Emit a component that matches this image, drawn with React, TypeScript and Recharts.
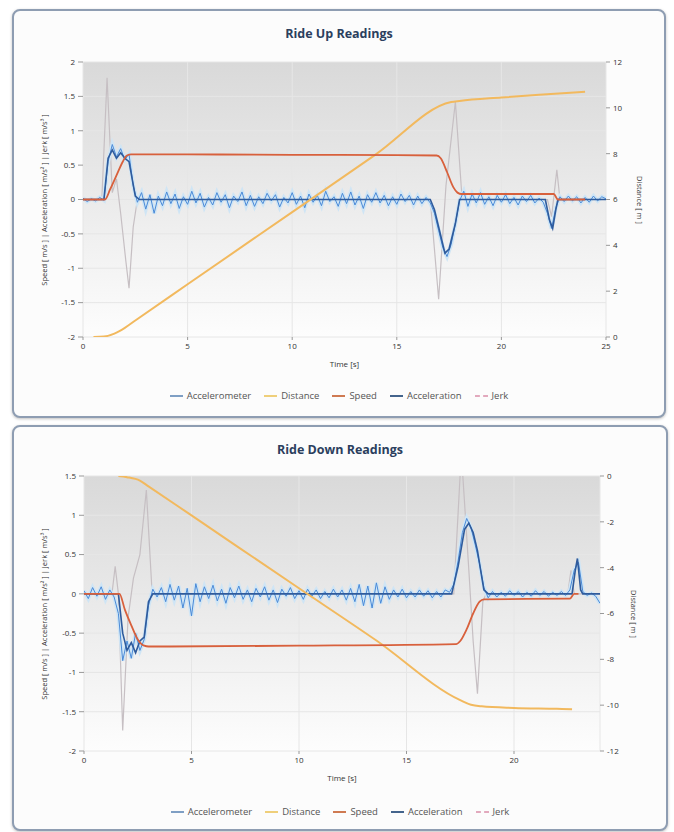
import { LineChart, Line, XAxis, YAxis, CartesianGrid } from "recharts"

// sampling interval of the raw accelerometer readings [s]
const STEP = 0.2

// ---- Ride Up ----
const upAccelerometer = [
  0.02, -0.03, 0.01, -0.02, 0.03, -0.01, 0.55, 0.8, 0.62, 0.74,
  0.58, 0.66, 0.2, -0.04, 0.1, -0.14, 0.07, -0.2, 0.05, -0.09,
  0.11, -0.06, 0.08, -0.13, 0.04, -0.07, 0.12, -0.05, 0.09, -0.11,
  0.03, -0.08, 0.1, -0.04, 0.07, -0.12, 0.05, -0.03, 0.11, -0.09,
  0.06, -0.1, 0.04, -0.06, 0.09, -0.02, 0.07, -0.11, 0.03, -0.05,
  0.1, -0.07, 0.05, -0.12, 0.08, -0.04, 0.06, -0.09, 0.12, -0.03,
  0.04, -0.1, 0.09, -0.06, 0.11, -0.08, 0.05, -0.13, 0.07, -0.04,
  0.1, -0.05, 0.06, -0.09, 0.04, -0.07, 0.08, -0.03, 0.06, -0.08,
  0.05, -0.06, 0.03, -0.05, -0.2, -0.45, -0.7, -0.83, -0.65, -0.35,
  -0.02, 0.12, -0.1, 0.08, -0.05, 0.1, -0.07, 0.04, -0.09, 0.06,
  -0.04, 0.07, -0.06, 0.03, -0.08, 0.05, -0.03, 0.06, -0.05, 0.02,
  -0.04, -0.2, -0.42, -0.12, 0.04, -0.03, 0.05, -0.02, 0.04, -0.05,
  0.03, -0.04, 0.05, -0.02, 0.04, 0.01,
]
const upAcceleration: [number, number][] = [
  [0, 0], [1.0, 0], [1.2, 0.6], [1.4, 0.72], [1.6, 0.6], [1.8, 0.68], [2.0, 0.6], [2.2, 0.55],
  [2.5, 0.05], [2.7, 0], [16.6, 0], [16.8, -0.15], [17.0, -0.4], [17.3, -0.78], [17.5, -0.72],
  [17.8, -0.35], [18.0, 0], [22.1, 0], [22.3, -0.3], [22.45, -0.42], [22.6, -0.15], [22.7, 0], [25, 0],
]
const upJerk: [number, number][] = [
  [0, 0], [0.9, 0], [1.15, 1.77], [1.4, 0.1], [1.6, 0.3], [1.8, -0.2], [2.05, -0.9], [2.2, -1.29],
  [2.4, -0.4], [2.6, 0], [16.6, 0], [17.0, -1.45], [17.35, 0.2], [17.8, 1.42], [18.1, 0.1], [18.3, 0],
  [22.2, 0], [22.4, -0.25], [22.65, 0.43], [22.8, 0], [25, 0],
]
const upSpeed: [number, number][] = [
  [0, 0], [1.05, 0], [1.3, 0.15], [1.6, 0.35], [1.9, 0.55], [2.1, 0.64], [2.3, 0.655], [5, 0.655],
  [10, 0.65], [15, 0.645], [16.9, 0.64], [17.1, 0.6], [17.4, 0.4], [17.7, 0.18], [17.9, 0.1],
  [18.1, 0.08], [22.5, 0.08], [22.7, 0], [24, 0],
]
const upDistance: [number, number][] = [
  [0.5, 0], [1.0, 0.02], [1.5, 0.15], [2.0, 0.4], [2.5, 0.72], [5, 2.3], [10, 5.45], [14, 7.97],
  [17.6, 10.25], [18, 10.3], [20, 10.45], [22, 10.58], [24, 10.7],
]
const upXTicks = [0, 5, 10, 15, 20, 25]
const upLeftTicks = [-2, -1.5, -1, -0.5, 0, 0.5, 1, 1.5, 2]
const upRightTicks = [0, 2, 4, 6, 8, 10, 12]

// ---- Ride Down ----
const downAccelerometer = [
  0.04, -0.06, 0.08, -0.03, 0.09, -0.07, 0.05, -0.04, -0.25, -0.85,
  -0.6, -0.82, -0.5, -0.72, -0.58, -0.15, 0.06, -0.04, 0.08, -0.1,
  0.12, -0.08, 0.1, -0.18, 0.07, -0.28, 0.13, -0.1, 0.09, -0.06,
  0.11, -0.09, 0.06, -0.12, 0.08, -0.05, 0.1, -0.07, 0.05, -0.1,
  0.07, -0.04, 0.09, -0.08, 0.05, -0.11, 0.06, -0.03, 0.08, -0.06,
  0.04, -0.07, 0.06, -0.03, 0.05, -0.06, 0.03, -0.05, 0.06, -0.04,
  0.05, -0.08, 0.07, -0.1, 0.12, -0.15, 0.1, -0.18, 0.14, -0.12,
  0.09, -0.07, 0.05, -0.04, 0.06, -0.05, 0.03, -0.04, 0.05, -0.03,
  0.04, -0.05, 0.03, -0.04, 0.05, 0.02, 0.12, 0.42, 0.78, 0.96,
  0.84, 0.62, 0.38, 0.08, -0.05, 0.03, -0.04, 0.02, -0.03, 0.04,
  -0.02, 0.03, -0.04, 0.02, -0.03, 0.04, -0.02, 0.03, -0.03, 0.02,
  -0.02, 0.03, -0.02, 0.05, 0.3, 0.4, 0.03, -0.02, 0.01, -0.03,
  -0.12,
]
const downAcceleration: [number, number][] = [
  [0, 0], [1.6, 0], [1.8, -0.5], [2.0, -0.72], [2.2, -0.62], [2.4, -0.75], [2.6, -0.6], [2.8, -0.55],
  [3.0, -0.1], [3.2, 0], [17.1, 0], [17.4, 0.35], [17.7, 0.82], [17.9, 0.9], [18.1, 0.78],
  [18.3, 0.55], [18.45, 0.3], [18.6, 0.05], [18.8, 0], [22.7, 0], [22.85, 0.3], [22.95, 0.45],
  [23.1, 0.05], [23.2, 0], [24, 0],
]
const downJerk: [number, number][] = [
  [0, 0], [1.3, 0], [1.45, 0.35], [1.6, 0], [1.8, -1.74], [2.05, -0.3], [2.3, 0.2], [2.6, 0.5],
  [2.9, 1.32], [3.15, 0.1], [3.3, 0], [17.2, 0], [17.55, 1.8], [17.9, 0.3], [18.1, -0.6],
  [18.3, -1.27], [18.55, -0.1], [18.7, 0], [22.5, 0], [22.65, 0.3], [22.8, 0], [24, 0],
]
const downSpeed: [number, number][] = [
  [0, 0], [1.65, 0], [1.9, -0.2], [2.2, -0.4], [2.5, -0.58], [2.8, -0.66], [3.0, -0.67], [10, -0.66],
  [17.3, -0.64], [17.5, -0.6], [17.8, -0.45], [18.1, -0.25], [18.4, -0.1], [18.6, -0.07],
  [22.6, -0.06], [22.8, 0], [23, 0],
]
const downDistance: [number, number][] = [
  [1.6, 0], [2.0, -0.05], [2.6, -0.2], [3.0, -0.45], [5, -1.72], [10, -4.9], [13.6, -7.18],
  [17.5, -9.78], [18, -9.98], [18.5, -10.05], [20, -10.12], [22, -10.16], [22.7, -10.18],
]
const downXTicks = [0, 5, 10, 15, 20]
const downLeftTicks = [-2, -1.5, -1, -0.5, 0, 0.5, 1, 1.5]
const downRightTicks = [-12, -10, -8, -6, -4, -2, 0]

const C_ACCELEROMETER = "#4a8ad8"
const C_ACCELERATION = "#2f5b9c"
const C_SPEED = "#d8603c"
const C_DISTANCE = "#f2b95e"
const C_JERK = "#c6bfc3"

const FONT = "'Open Sans', 'DejaVu Sans', sans-serif"

const sampled = (vals: number[]) => vals.map((v, i) => ({ t: +(i * STEP).toFixed(1), v }))
const rows = (pts: [number, number][]) => pts.map(([t, v]) => ({ t, v }))

const legendItems = [
  { name: "Accelerometer", color: "#7f9fc4", dash: false },
  { name: "Distance", color: "#efcf7a", dash: false },
  { name: "Speed", color: "#cf7a52", dash: false },
  { name: "Acceleration", color: "#44648c", dash: false },
  { name: "Jerk", color: "#e2a9bd", dash: true },
]

interface ChartProps {
  id: string
  title: string
  left: number
  top: number
  width: number
  height: number
  margin: { top: number; right: number; bottom: number; left: number }
  xDomain: [number, number]
  xTicks: number[]
  yDomain: [number, number]
  yTicks: number[]
  rDomain: [number, number]
  rTicks: number[]
  accelerometer: number[]
  acceleration: [number, number][]
  jerk: [number, number][]
  speed: [number, number][]
  distance: [number, number][]
}

function RideChart(p: ChartProps) {
  const plotTop = p.margin.top
  const plotBottom = p.height - p.margin.bottom - 25
  const plotLeft = p.margin.left + 40
  const plotRight = p.width - p.margin.right - 40
  const midY = (plotTop + plotBottom) / 2
  const midX = (plotLeft + plotRight) / 2
  const tick = { fontSize: 8, fill: "#333", fontFamily: FONT }
  const acc = sampled(p.accelerometer)
  return (
    <div style={{
      position: "absolute", left: p.left, top: p.top, width: p.width, height: p.height,
      boxSizing: "border-box", border: "2px solid #8e9db2", borderRadius: 8,
      background: "#fcfcfc", boxShadow: "0 1px 3px rgba(0,0,0,0.25)", fontFamily: FONT,
    }}>
      <div style={{ position: "absolute", left: -2, top: -2 }}>
        <LineChart width={p.width} height={p.height} margin={p.margin}>
          <defs>
            <linearGradient id={p.id} x1="0" y1="0" x2="0" y2="1">
              <stop offset="0%" stopColor="#d9d9d9" />
              <stop offset="100%" stopColor="#fdfdfd" />
            </linearGradient>
          </defs>
          <CartesianGrid fill={`url(#${p.id})`} fillOpacity={1} stroke="#e6e6e6" yAxisId="left" />
          <XAxis type="number" dataKey="t" domain={p.xDomain} ticks={p.xTicks} allowDataOverflow
            height={25} axisLine={false} tickLine={{ stroke: "#999" }} tickSize={3} tickMargin={3} tick={tick} />
          <YAxis yAxisId="left" domain={p.yDomain} ticks={p.yTicks} allowDataOverflow width={40}
            axisLine={false} tickLine={{ stroke: "#999" }} tickSize={5} tickMargin={3} tick={tick} />
          <YAxis yAxisId="right" orientation="right" domain={p.rDomain} ticks={p.rTicks} allowDataOverflow width={40}
            axisLine={false} tickLine={{ stroke: "#999" }} tickSize={4} tickMargin={3} tick={{ ...tick, textAnchor: "start" }} />
          <Line yAxisId="left" data={rows(p.jerk)} dataKey="v" stroke={C_JERK} strokeWidth={1.2}
            dot={false} type="linear" isAnimationActive={false} />
          <Line yAxisId="left" data={acc} dataKey="v" stroke="#cfe5f5" strokeWidth={4}
            dot={false} type="linear" isAnimationActive={false} legendType="none" />
          <Line yAxisId="left" data={acc} dataKey="v" stroke={C_ACCELEROMETER} strokeWidth={1}
            dot={false} type="linear" isAnimationActive={false} />
          <Line yAxisId="left" data={rows(p.acceleration)} dataKey="v" stroke={C_ACCELERATION} strokeWidth={1.6}
            dot={false} type="linear" isAnimationActive={false} />
          <Line yAxisId="right" data={rows(p.distance)} dataKey="v" stroke={C_DISTANCE} strokeWidth={2}
            dot={false} type="monotone" isAnimationActive={false} />
          <Line yAxisId="left" data={rows(p.speed)} dataKey="v" stroke={C_SPEED} strokeWidth={1.8}
            dot={false} type="monotone" isAnimationActive={false} />
        </LineChart>
      </div>
      <div style={{ position: "absolute", left: 0, right: 0, top: 14, textAlign: "center",
        fontSize: 12.5, fontWeight: 700, color: "#2b3f5e" }}>{p.title}</div>
      <div style={{ position: "absolute", left: midX - 2, top: plotBottom + 24, transform: "translate(-50%, -50%)",
        fontSize: 8, color: "#333", whiteSpace: "nowrap" }}>Time [s]</div>
      <div style={{ position: "absolute", left: 30, top: midY - 2, transform: "translate(-50%, -50%) rotate(-90deg)",
        fontSize: 7.5, color: "#333", whiteSpace: "nowrap" }}>Speed [ m/s ] | Acceleration [ m/s² ] | Jerk [ m/s³ ]</div>
      <div style={{ position: "absolute", left: plotRight + 32, top: midY - 2, transform: "translate(-50%, -50%) rotate(90deg)",
        fontSize: 7.5, color: "#333", whiteSpace: "nowrap" }}>Distance [ m ]</div>
      <div style={{ position: "absolute", left: 0, right: 0, top: 378, display: "flex", justifyContent: "center",
        gap: 13, fontSize: 9.5, color: "#555" }}>
        {legendItems.map(it => (
          <span key={it.name} style={{ display: "flex", alignItems: "center", gap: 4 }}>
            <span style={{ width: 13, height: 0, borderTop: `2px ${it.dash ? "dashed" : "solid"} ${it.color}`, display: "inline-block" }} />
            {it.name}
          </span>
        ))}
      </div>
    </div>
  )
}

export default function App() {
  return (
    <div style={{ position: "absolute", left: 0, top: 0, width: 674, height: 832, background: "#fff" }}>
      <RideChart id="gradUp" title="Ride Up Readings" left={12} top={9} width={654} height={409}
        margin={{ top: 53, right: 20, bottom: 56, left: 31 }}
        xDomain={[0, 25]} xTicks={upXTicks} yDomain={[-2, 2]} yTicks={upLeftTicks}
        rDomain={[0, 12]} rTicks={upRightTicks}
        accelerometer={upAccelerometer} acceleration={upAcceleration} jerk={upJerk}
        speed={upSpeed} distance={upDistance} />
      <RideChart id="gradDown" title="Ride Down Readings" left={12} top={425} width={656} height={406}
        margin={{ top: 51, right: 28, bottom: 55, left: 32 }}
        xDomain={[0, 24]} xTicks={downXTicks} yDomain={[-2, 1.5]} yTicks={downLeftTicks}
        rDomain={[-12, 0]} rTicks={downRightTicks}
        accelerometer={downAccelerometer} acceleration={downAcceleration} jerk={downJerk}
        speed={downSpeed} distance={downDistance} />
    </div>
  )
}
